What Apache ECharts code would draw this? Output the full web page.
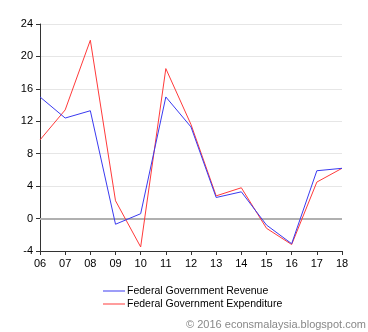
<!DOCTYPE html>
<html><head><meta charset="utf-8">
<script src="https://cdn.jsdelivr.net/npm/echarts@6/dist/echarts.min.js"></script>
<style>html,body{margin:0;padding:0;background:#fff}#c{width:368px;height:332px}</style>
</head><body><div id="c"></div>
<script>
var years = ['06','07','08','09','10','11','12','13','14','15','16','17','18'];
var revenue = [15.0, 12.4, 13.3, -0.7, 0.6, 15.0, 11.3, 2.6, 3.3, -0.8, -3.1, 5.9, 6.2];
var expenditure = [9.7, 13.4, 22.0, 2.2, -3.5, 18.5, 11.6, 2.8, 3.8, -1.2, -3.2, 4.5, 6.2];
var yTicks = [-4, 0, 4, 8, 12, 16, 20, 24];

var chart = echarts.init(document.getElementById('c'), null, {renderer:'canvas'});
chart.setOption({
  animation: false,
  backgroundColor: '#fff',
  textStyle: {fontFamily: 'Liberation Sans, Arial, sans-serif'},
  grid: {left: 40, right: 26, top: 24, bottom: 81, containLabel: false},
  legend: {
    orient: 'vertical', left: 103, top: 285, padding: 0, itemWidth: 22, itemHeight: 1, itemGap: 1,
    icon: 'rect',
    textStyle: {fontSize: 10.5, color: '#000', lineHeight: 12, fontFamily: 'Liberation Sans, Arial, sans-serif', padding:[0,0,0,-3]},
    data: ['Federal Government Revenue', 'Federal Government Expenditure']
  },
  xAxis: {
    type: 'category', data: years, boundaryGap: false,
    axisLine: {onZero: false, lineStyle: {color: '#333', width: 1}},
    axisTick: {show: true, length: 4, lineStyle: {color: '#333'}, alignWithLabel: true},
    axisLabel: {fontSize: 11, color: '#000', margin: 7},
    splitLine: {show: false}
  },
  yAxis: {
    type: 'value', min: yTicks[0], max: yTicks[yTicks.length-1], interval: 4,
    axisLine: {show: true, lineStyle: {color: '#333', width: 1}},
    axisTick: {show: true, length: 4, lineStyle: {color: '#333'}},
    axisLabel: {fontSize: 11, color: '#000', margin: 7},
    splitLine: {show: true, lineStyle: {color: '#e6e6e6', width: 1}}
  },
  series: [
    {name: 'Federal Government Revenue', type: 'line', data: revenue, symbol: 'none',
     lineStyle: {color: '#3a3af0', width: 1}, itemStyle: {color: '#3a3af0'}, z: 3,
     markLine: {silent: true, symbol: 'none', label: {show: false},
       lineStyle: {color: '#b0b0b0', width: 2, type: 'solid'}, data: [{yAxis: 0}], z: 1}},
    {name: 'Federal Government Expenditure', type: 'line', data: expenditure, symbol: 'none',
     lineStyle: {color: '#ff3a3a', width: 1}, itemStyle: {color: '#ff3a3a'}, z: 2}
  ],
  graphic: [{
    type: 'text', right: 2, top: 319,
    style: {text: '\u00a9 2016 econsmalaysia.blogspot.com', fill: '#888', font: '11px "Liberation Sans", Arial, sans-serif'}
  }]
});
</script></body></html>
